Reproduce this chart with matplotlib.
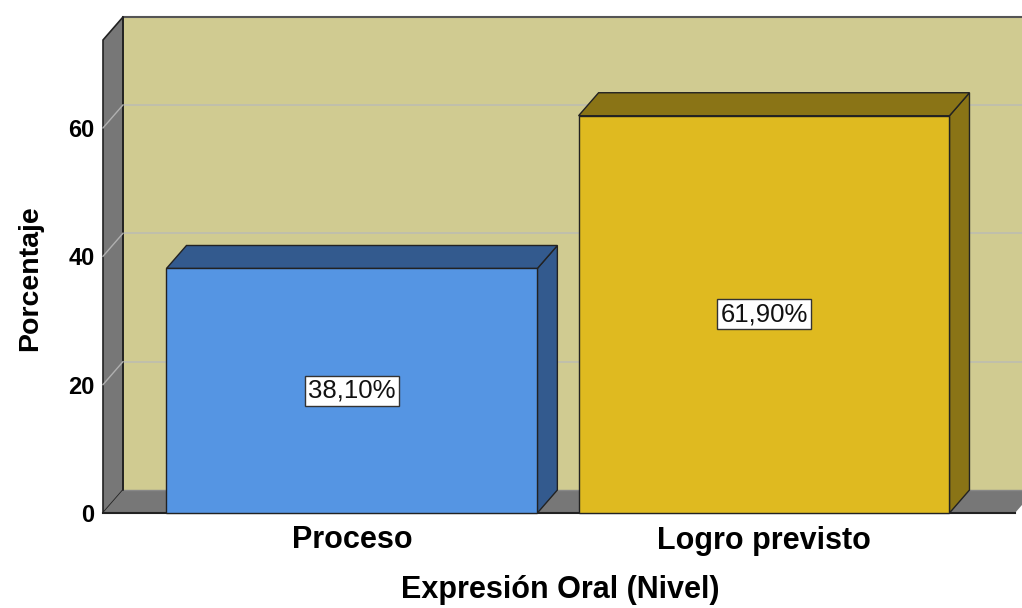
import matplotlib
matplotlib.use("Agg")
import matplotlib.pyplot as plt
from matplotlib.patches import Polygon, Rectangle

categories = ["Proceso", "Logro previsto"]
values = [38.10, 61.90]
value_labels = ["38,10%", "61,90%"]
yticks = [0, 20, 40, 60]
ytick_labels = ["0", "20", "40", "60"]
x_title = "Expresión Oral (Nivel)"
y_title = "Porcentaje"

front_colors = ["#5595E3", "#DFBA20"]
side_colors = ["#335A8E", "#8A7416"]
wall_color = "#D0CB91"
side_wall = "#777777"
grid_color = "#BDBDB0"
edge = "#222222"

plt.rcParams['font.family'] = ['Liberation Sans', 'DejaVu Sans']

W, H = 1022, 608
fig = plt.figure(figsize=(W / 100, H / 100), dpi=100)
# front plane of the 3D box
left_px, right_px, bottom_px, top_px = 103, 1015, 513, 40
ax = fig.add_axes([left_px / W, 1 - bottom_px / H,
                   (right_px - left_px) / W, (bottom_px - top_px) / H])
xmin, xmax = -0.604, 1.609
ymin, ymax = 0, 73.7
ax.set_xlim(xmin, xmax)
ax.set_ylim(ymin, ymax)

# depth offsets in data units
dx = 20 / 412.0
dy = 23 / 6.42
bw = 0.9

# back wall
ax.add_patch(Rectangle((xmin + dx, dy), (xmax - xmin) + 0.2, ymax, facecolor=wall_color,
                       edgecolor="none", clip_on=False, zorder=0))
ax.plot([xmin + dx, xmax + 0.3], [ymax + dy, ymax + dy], color="#555555", lw=1.5,
        clip_on=False, zorder=1)
# left wall
ax.add_patch(Polygon([(xmin, 0), (xmin, ymax), (xmin + dx, ymax + dy), (xmin + dx, dy)],
                     closed=True, facecolor=side_wall, edgecolor=edge, lw=1.2,
                     clip_on=False, zorder=1))
# floor
ax.add_patch(Polygon([(xmin, 0), (xmax, 0), (xmax + dx, dy), (xmin + dx, dy)],
                     closed=True, facecolor=side_wall, edgecolor="none",
                     clip_on=False, zorder=1))
ax.plot([xmin, xmax], [0, 0], color=edge, lw=1.5, clip_on=False, zorder=2)
ax.plot([xmin + dx, xmax + dx], [dy, dy], color="#888888", lw=1, clip_on=False, zorder=2)
ax.plot([xmin + dx, xmin + dx], [dy, ymax + dy], color=edge, lw=1.2, clip_on=False, zorder=2)

# grid lines
for v in yticks[1:]:
    ax.plot([xmin + dx, xmax + 0.3], [v + dy, v + dy], color=grid_color, lw=1.2,
            clip_on=False, zorder=1)
    ax.plot([xmin, xmin + dx], [v, v + dy], color="#B0B0B0", lw=1.0,
            clip_on=False, zorder=2)

# bars
for i, v in enumerate(values):
    x0 = i - bw / 2
    x1 = i + bw / 2
    ax.add_patch(Polygon([(x1, 0), (x1 + dx, dy), (x1 + dx, v + dy), (x1, v)], closed=True,
                         facecolor=side_colors[i], edgecolor=edge, lw=1, zorder=3,
                         clip_on=False))
    ax.add_patch(Polygon([(x0, v), (x1, v), (x1 + dx, v + dy), (x0 + dx, v + dy)], closed=True,
                         facecolor=side_colors[i], edgecolor=edge, lw=1, zorder=3,
                         clip_on=False))
    ax.add_patch(Rectangle((x0, 0), bw, v, facecolor=front_colors[i], edgecolor=edge,
                           lw=1, zorder=4, clip_on=False))
    ax.text(i, v / 2, value_labels[i], ha="center", va="center", fontsize=18.5,
            zorder=5, color="#111111",
            bbox=dict(boxstyle="square,pad=0.12", facecolor="white", edgecolor="#333333", lw=1))

for s in ax.spines.values():
    s.set_visible(False)
ax.set_facecolor("none")
ax.set_yticks(yticks)
ax.set_yticklabels(ytick_labels, fontsize=17, fontweight="bold")
ax.set_xticks(range(len(categories)))
ax.set_xticklabels(categories, fontsize=22, fontweight="bold")
ax.tick_params(axis="y", length=0, pad=6)
ax.tick_params(axis="x", length=0, pad=9)
ax.set_xlabel(x_title, fontsize=22, fontweight="bold")
ax.set_ylabel(y_title, fontsize=20.5, fontweight="bold")
ax.xaxis.label.set_verticalalignment("center")
ax.yaxis.label.set_verticalalignment("center")
ax.xaxis.set_label_coords((560 - left_px) / (right_px - left_px), -(590 - bottom_px) / (bottom_px - top_px))
ax.yaxis.set_label_coords(-(103 - 30) / (right_px - left_px), (513 - 278) / (bottom_px - top_px))

fig.savefig("out.png", dpi=100)
